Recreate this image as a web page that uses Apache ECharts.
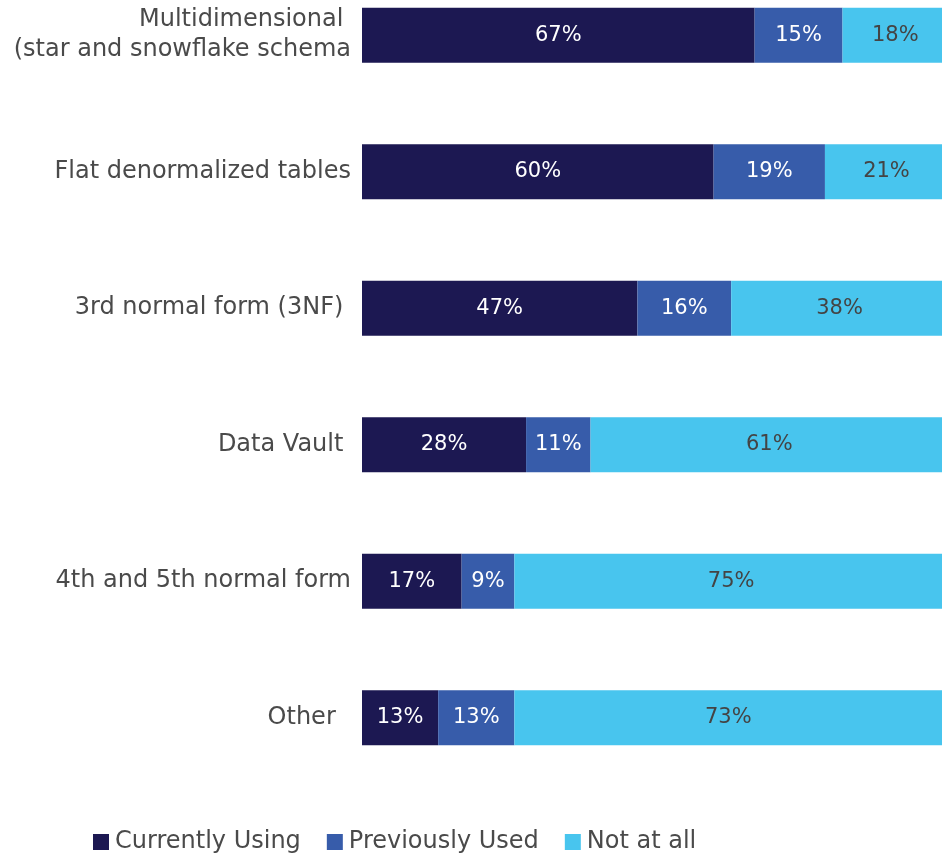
<!DOCTYPE html>
<html>
<head>
<meta charset="utf-8">
<script src="https://cdn.jsdelivr.net/npm/echarts@6/dist/echarts.min.js"></script>
<style>
  html, body { margin: 0; padding: 0; background: #ffffff; }
  #chart { width: 942px; height: 857px; }
</style>
</head>
<body>
<div id="chart"></div>
<script>
// categories top to bottom
const categories = [
  'Multidimensional \n(star and snowflake schema',
  'Flat denormalized tables',
  '3rd normal form (3NF) ',
  'Data Vault ',
  '4th and 5th normal form',
  'Other  '
];
const currentlyUsing = [67, 60, 47, 28, 17, 13];
const previouslyUsed = [15, 19, 16, 11, 9, 13];
const notAtAll = [18, 21, 38, 61, 75, 73];
const seriesNames = ['Currently Using', 'Previously Used', 'Not at all'];

const FONT = '"DejaVu Sans", sans-serif';
const colors = ['#1c1852', '#375caa', '#48c5ee'];
const labelColors = ['#ffffff', '#ffffff', '#444444'];

const chart = echarts.init(document.getElementById('chart'));

function barSeries(name, data, i) {
  return {
    type: 'bar',
    name,
    stack: 'total',
    data,
    barWidth: 55,
    itemStyle: { color: colors[i] },
    label: {
      show: true,
      position: 'inside',
      formatter: '{c}%',
      color: labelColors[i],
      fontFamily: FONT,
      fontSize: 21
    }
  };
}

chart.setOption({
  animation: false,
  backgroundColor: '#ffffff',
  textStyle: { fontFamily: FONT },
  grid: {
    left: 362, right: -6, top: -33, bottom: 71,
    containLabel: false,
    outerBoundsMode: 'none'
  },
  xAxis: {
    type: 'value',
    min: 0,
    max: 100,
    show: false
  },
  yAxis: {
    type: 'category',
    inverse: true,
    data: categories,
    axisLine: { show: false },
    axisTick: { show: false },
    splitLine: { show: false },
    axisLabel: {
      color: '#4a4a4a',
      fontFamily: FONT,
      fontSize: 24,
      lineHeight: 30,
      margin: 11,
      align: 'right'
    }
  },
  legend: {
    left: 88,
    top: 825,
    itemWidth: 16,
    itemHeight: 16,
    itemGap: 26,
    icon: 'rect',
    textStyle: { color: '#4a4a4a', fontFamily: FONT, fontSize: 24, padding: [0, 0, 0, 1] },
    data: seriesNames
  },
  series: [
    barSeries(seriesNames[0], currentlyUsing, 0),
    barSeries(seriesNames[1], previouslyUsed, 1),
    barSeries(seriesNames[2], notAtAll, 2)
  ]
});
</script>
</body>
</html>
